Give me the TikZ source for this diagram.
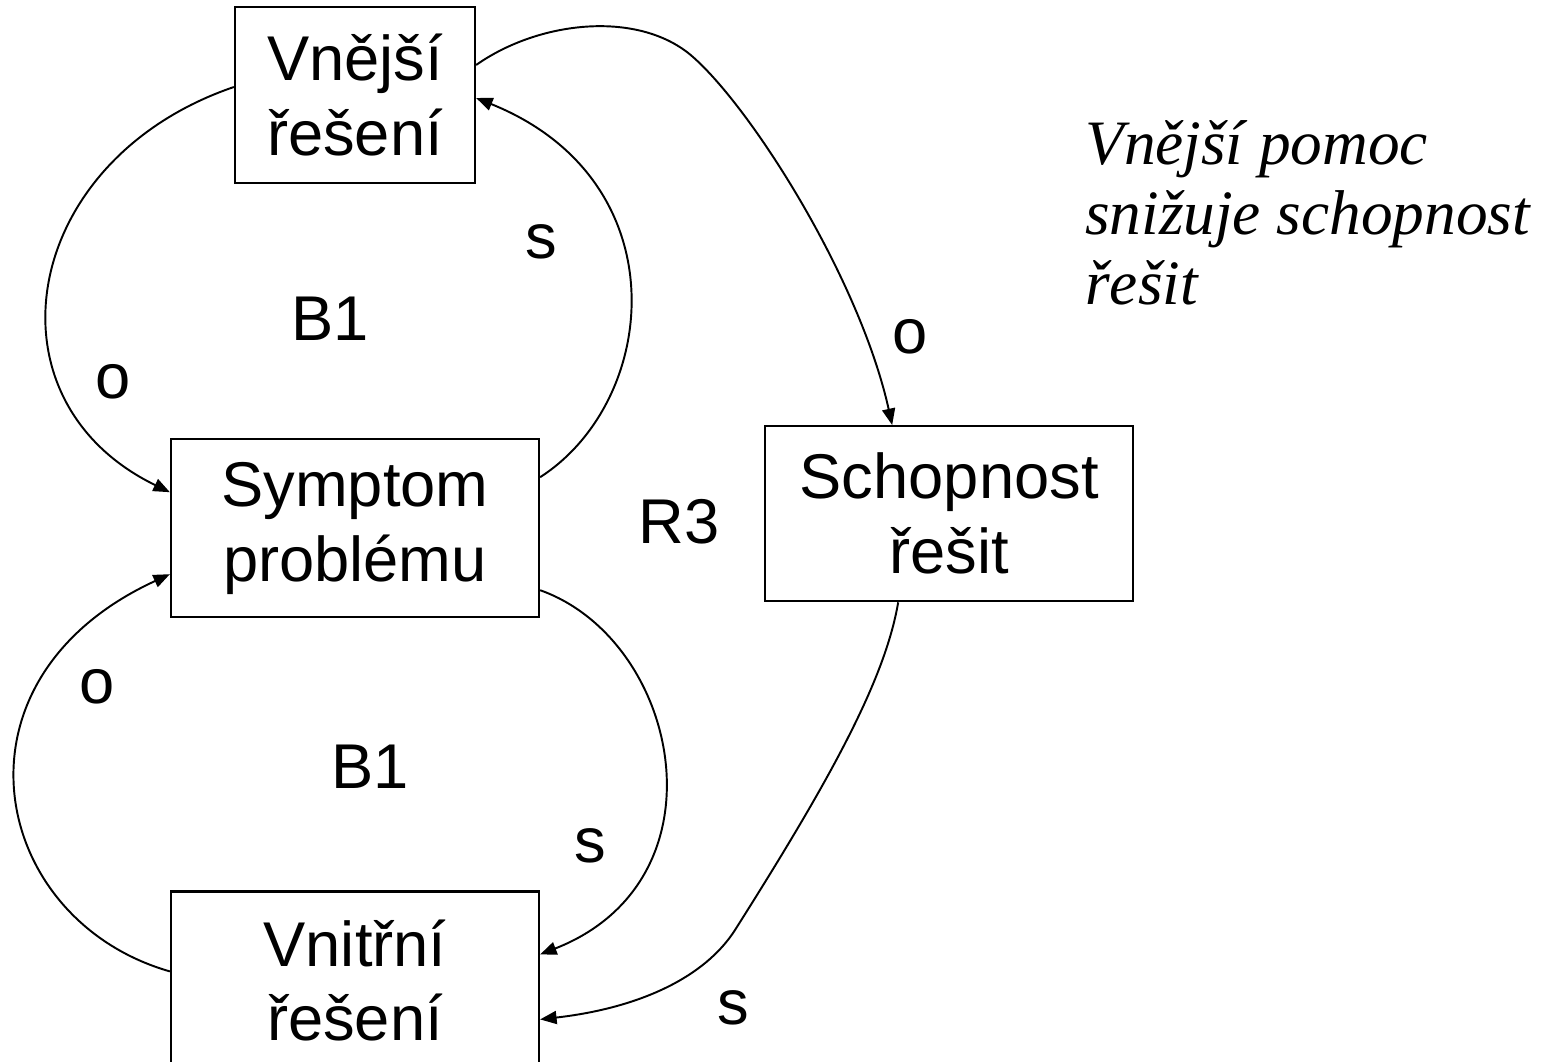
\documentclass[tikz,border=0pt]{standalone}
\usepackage{fontspec}
\setmainfont{Liberation Sans}
\newfontfamily\timesfont{Liberation Serif}
\usetikzlibrary{arrows.meta, positioning}

\begin{document}
\begin{tikzpicture}[x=0.02cm, y=-0.02cm]
    \tikzset{
        block/.style = {rectangle, draw, line width=1.3pt, align=center, font=\fontsize{36}{42.5}\selectfont},
        lbl/.style = {anchor=base, font=\fontsize{36}{42.5}\selectfont},
        line/.style = {draw, line width=1.1pt, -{Triangle[length=3.3mm, width=2.6mm]}}
    }
    \useasboundingbox (0,0) rectangle (1547,1061);

    \node[block, minimum width=4.8cm, minimum height=3.52cm] (ext) at (355,95) {Vnější\\řešení};
    \node[block, minimum width=7.36cm, minimum height=3.56cm, below=5.08cm of ext] (sym) {Symptom\\problému};
    \node[block, minimum width=7.36cm, minimum height=3.56cm, below=5.44cm of sym] (int) {Vnitřní\\řešení};
    \node[block, minimum width=7.36cm, minimum height=3.5cm, right=4.48cm of sym, yshift=0.29cm] (abl) {Schopnost\\řešit};

    \node[anchor=north west, inner sep=0pt, align=left, font=\fontsize{36}{40}\timesfont\itshape] (note) at (1085,120)
        {Vnější pomoc\\snižuje schopnost\\řešit};

    % polarity and loop labels
    \node[lbl] (s1) at (541,258) {s};
    \node[lbl] (b1) at (330,340) {B1};
    \node[lbl] (o1) at (113,398) {o};
    \node[lbl] (o2) at (910,353) {o};
    \node[lbl] (r3) at (679,543) {R3};
    \node[lbl] (o3) at (97,703) {o};
    \node[lbl] (b2) at (370,788) {B1};
    \node[lbl] (s2) at (590,862) {s};
    \node[lbl] (s3) at (733,1024) {s};

    \path[line] ([yshift=0.16cm]ext.west) .. controls (20,160) and (-20,400) .. ([yshift=0.72cm]sym.west);
    \path[line] ([yshift=1.02cm]sym.east) .. controls (660,400) and (680,180) .. ([yshift=-0.06cm]ext.east);
    \path[line] ([yshift=0.6cm]ext.east) .. controls (540,20) and (640,10) .. (693,57)
        .. controls (753,110) and (860,280) .. ([xshift=-1.14cm]abl.north);
    \path[line] ([yshift=-1.24cm]sym.east) .. controls (680,640) and (730,880) .. ([yshift=0.52cm]int.east);
    \path[line] ([yshift=0.18cm]int.west) .. controls (-10,920) and (-60,680) .. ([yshift=-0.92cm]sym.west);
    \path[line] ([xshift=-1.02cm]abl.south) .. controls (885,680) and (830,780) .. (735,930)
        .. controls (705,977) and (640,1008) .. ([yshift=-0.78cm]int.east);
\end{tikzpicture}
\end{document}
